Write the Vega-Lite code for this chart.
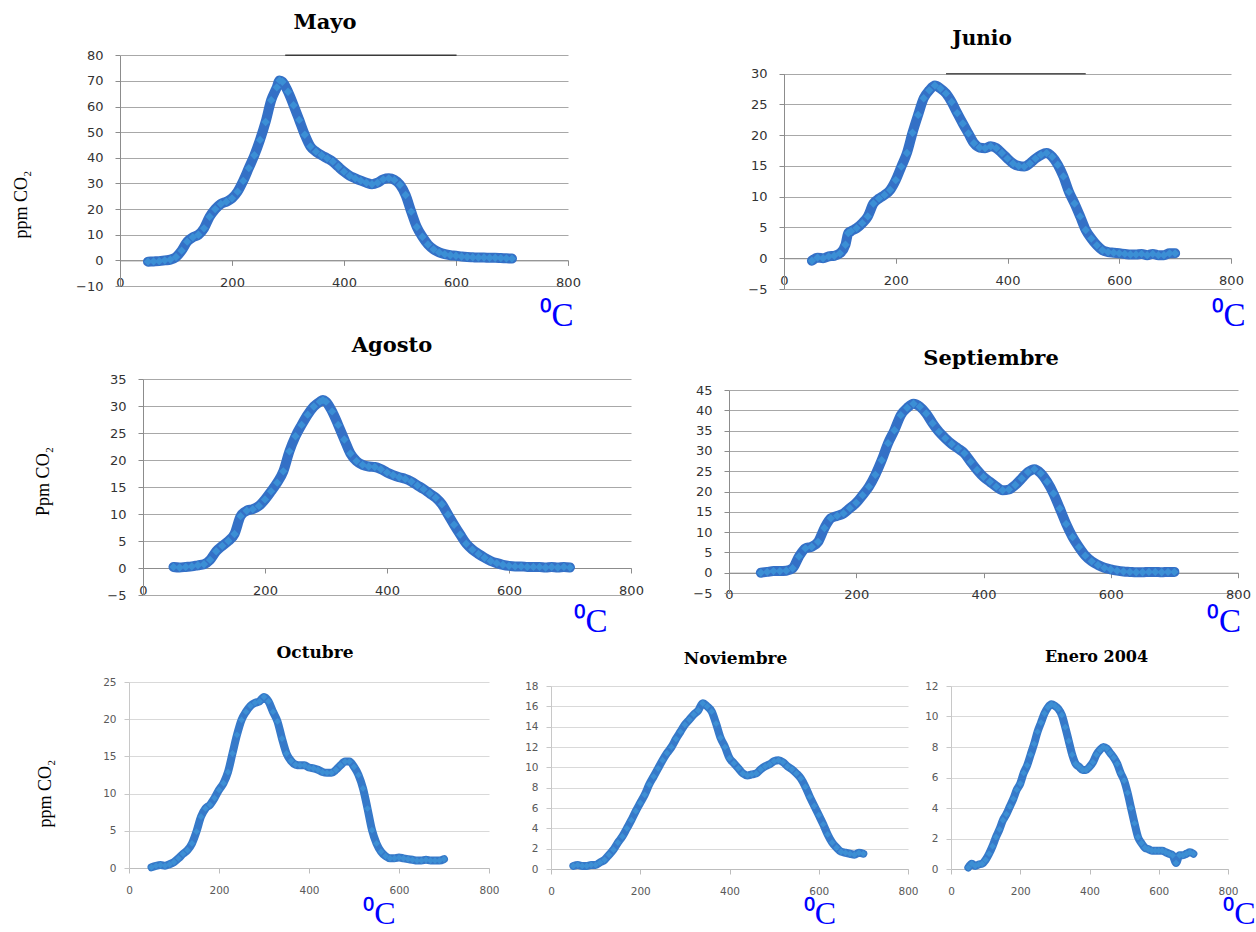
{
  "$schema": "https://vega.github.io/schema/vega-lite/v6.json",
  "padding": 0,
  "background": "white",
  "columns": 3,
  "spacing": 0,
  "bounds": "flush",
  "align": "each",
  "datasets": {
    "mayo": [
      {"temp":50,"ppm":-0.5},{"temp":60,"ppm":-0.4},{"temp":70,"ppm":-0.3},{"temp":80,"ppm":0},{"temp":90,"ppm":0.3},
      {"temp":100,"ppm":1.3},{"temp":110,"ppm":3.8},{"temp":120,"ppm":7.3},{"temp":130,"ppm":9},{"temp":140,"ppm":10},
      {"temp":150,"ppm":12.5},{"temp":160,"ppm":17},{"temp":170,"ppm":20},{"temp":180,"ppm":22},{"temp":190,"ppm":22.9},
      {"temp":200,"ppm":24.2},{"temp":210,"ppm":26.8},{"temp":220,"ppm":31},{"temp":230,"ppm":36},{"temp":240,"ppm":41},
      {"temp":250,"ppm":47},{"temp":260,"ppm":54},{"temp":270,"ppm":62.5},{"temp":280,"ppm":67.5},{"temp":285,"ppm":70.2},
      {"temp":290,"ppm":69.7},{"temp":300,"ppm":65.8},{"temp":310,"ppm":60.5},{"temp":320,"ppm":54.8},{"temp":330,"ppm":49},
      {"temp":340,"ppm":44.4},{"temp":350,"ppm":42.4},{"temp":360,"ppm":41},{"temp":370,"ppm":39.8},{"temp":380,"ppm":38.5},
      {"temp":390,"ppm":36.5},{"temp":400,"ppm":34.6},{"temp":410,"ppm":33},{"temp":420,"ppm":32},{"temp":430,"ppm":31.1},
      {"temp":440,"ppm":30.3},{"temp":450,"ppm":29.7},{"temp":460,"ppm":30.3},{"temp":470,"ppm":31.6},{"temp":480,"ppm":32},
      {"temp":490,"ppm":31.4},{"temp":500,"ppm":29.5},{"temp":510,"ppm":25.5},{"temp":520,"ppm":19},{"temp":530,"ppm":13},
      {"temp":540,"ppm":9.2},{"temp":550,"ppm":6.2},{"temp":560,"ppm":4.3},{"temp":570,"ppm":3.1},{"temp":580,"ppm":2.4},
      {"temp":590,"ppm":2},{"temp":600,"ppm":1.8},{"temp":610,"ppm":1.5},{"temp":620,"ppm":1.3},{"temp":630,"ppm":1.2},
      {"temp":640,"ppm":1.1},{"temp":650,"ppm":1.1},{"temp":660,"ppm":1},{"temp":670,"ppm":1},{"temp":680,"ppm":0.9},
      {"temp":690,"ppm":0.8},{"temp":700,"ppm":0.7}
    ],
    "junio": [
      {"temp":50,"ppm":-0.4},{"temp":60,"ppm":0.1},{"temp":70,"ppm":0},{"temp":80,"ppm":0.3},{"temp":90,"ppm":0.4},
      {"temp":100,"ppm":0.8},{"temp":110,"ppm":2.2},{"temp":115,"ppm":4.1},{"temp":120,"ppm":4.4},{"temp":130,"ppm":4.9},
      {"temp":140,"ppm":5.7},{"temp":150,"ppm":6.8},{"temp":160,"ppm":8.9},{"temp":170,"ppm":9.7},{"temp":180,"ppm":10.3},
      {"temp":190,"ppm":11.1},{"temp":200,"ppm":12.7},{"temp":210,"ppm":14.9},{"temp":220,"ppm":17.1},{"temp":230,"ppm":20.4},
      {"temp":240,"ppm":23.3},{"temp":250,"ppm":26},{"temp":260,"ppm":27.3},{"temp":270,"ppm":28.1},{"temp":280,"ppm":27.6},
      {"temp":290,"ppm":26.8},{"temp":300,"ppm":25.4},{"temp":310,"ppm":23.6},{"temp":320,"ppm":21.9},{"temp":330,"ppm":20.3},
      {"temp":340,"ppm":18.7},{"temp":350,"ppm":18},{"temp":360,"ppm":17.9},{"temp":370,"ppm":18.2},{"temp":380,"ppm":17.9},
      {"temp":390,"ppm":17.1},{"temp":400,"ppm":16.2},{"temp":410,"ppm":15.4},{"temp":420,"ppm":15},{"temp":430,"ppm":14.9},
      {"temp":440,"ppm":15.4},{"temp":450,"ppm":16.2},{"temp":460,"ppm":16.8},{"temp":470,"ppm":17.1},{"temp":480,"ppm":16.5},
      {"temp":490,"ppm":15.2},{"temp":500,"ppm":13.3},{"temp":510,"ppm":10.8},{"temp":520,"ppm":8.9},{"temp":530,"ppm":6.8},
      {"temp":540,"ppm":4.6},{"temp":550,"ppm":3.2},{"temp":560,"ppm":2.1},{"temp":570,"ppm":1.3},{"temp":580,"ppm":1},
      {"temp":590,"ppm":0.9},{"temp":600,"ppm":0.8},{"temp":610,"ppm":0.7},{"temp":620,"ppm":0.6},{"temp":630,"ppm":0.6},
      {"temp":640,"ppm":0.7},{"temp":650,"ppm":0.5},{"temp":660,"ppm":0.7},{"temp":670,"ppm":0.5},{"temp":680,"ppm":0.5},
      {"temp":690,"ppm":0.8},{"temp":700,"ppm":0.8}
    ],
    "agosto": [
      {"temp":50,"ppm":0.2},{"temp":60,"ppm":0.1},{"temp":70,"ppm":0.2},{"temp":80,"ppm":0.3},{"temp":90,"ppm":0.5},
      {"temp":100,"ppm":0.7},{"temp":110,"ppm":1.5},{"temp":120,"ppm":3.1},{"temp":130,"ppm":4.1},{"temp":140,"ppm":5},
      {"temp":150,"ppm":6.3},{"temp":160,"ppm":9.6},{"temp":170,"ppm":10.6},{"temp":180,"ppm":10.9},{"temp":190,"ppm":11.5},
      {"temp":200,"ppm":12.7},{"temp":210,"ppm":14.2},{"temp":220,"ppm":15.8},{"temp":230,"ppm":17.9},{"temp":240,"ppm":21.6},
      {"temp":250,"ppm":24.4},{"temp":260,"ppm":26.5},{"temp":270,"ppm":28.4},{"temp":280,"ppm":29.9},{"temp":290,"ppm":30.8},
      {"temp":295,"ppm":31.1},{"temp":300,"ppm":30.8},{"temp":310,"ppm":29},{"temp":320,"ppm":26.5},{"temp":330,"ppm":23.8},
      {"temp":340,"ppm":21.2},{"temp":350,"ppm":19.8},{"temp":360,"ppm":19.1},{"temp":370,"ppm":18.8},{"temp":380,"ppm":18.7},
      {"temp":390,"ppm":18.3},{"temp":400,"ppm":17.7},{"temp":410,"ppm":17.2},{"temp":420,"ppm":16.8},{"temp":430,"ppm":16.5},
      {"temp":440,"ppm":16},{"temp":450,"ppm":15.3},{"temp":460,"ppm":14.6},{"temp":470,"ppm":13.8},{"temp":480,"ppm":13},
      {"temp":490,"ppm":11.8},{"temp":500,"ppm":9.9},{"temp":510,"ppm":8},{"temp":520,"ppm":6.2},{"temp":530,"ppm":4.5},
      {"temp":540,"ppm":3.4},{"temp":550,"ppm":2.6},{"temp":560,"ppm":1.9},{"temp":570,"ppm":1.3},{"temp":580,"ppm":0.9},
      {"temp":590,"ppm":0.6},{"temp":600,"ppm":0.4},{"temp":610,"ppm":0.3},{"temp":620,"ppm":0.3},{"temp":630,"ppm":0.2},
      {"temp":640,"ppm":0.2},{"temp":650,"ppm":0.2},{"temp":660,"ppm":0.1},{"temp":670,"ppm":0.2},{"temp":680,"ppm":0.1},
      {"temp":690,"ppm":0.2},{"temp":700,"ppm":0.1}
    ],
    "septiembre": [
      {"temp":50,"ppm":0},{"temp":60,"ppm":0.2},{"temp":70,"ppm":0.4},{"temp":80,"ppm":0.4},{"temp":90,"ppm":0.5},
      {"temp":100,"ppm":1.1},{"temp":110,"ppm":4},{"temp":120,"ppm":6},{"temp":130,"ppm":6.4},{"temp":140,"ppm":7.6},
      {"temp":150,"ppm":11},{"temp":160,"ppm":13.4},{"temp":170,"ppm":14},{"temp":180,"ppm":14.6},{"temp":190,"ppm":15.9},
      {"temp":200,"ppm":17.2},{"temp":210,"ppm":19.1},{"temp":220,"ppm":21.2},{"temp":230,"ppm":24.1},{"temp":240,"ppm":27.7},
      {"temp":250,"ppm":31.9},{"temp":260,"ppm":35.1},{"temp":270,"ppm":38.8},{"temp":280,"ppm":40.6},{"temp":290,"ppm":41.6},
      {"temp":300,"ppm":40.9},{"temp":310,"ppm":39.2},{"temp":320,"ppm":36.8},{"temp":330,"ppm":34.7},{"temp":340,"ppm":33.1},
      {"temp":350,"ppm":31.7},{"temp":360,"ppm":30.6},{"temp":370,"ppm":29.4},{"temp":380,"ppm":27.3},{"temp":390,"ppm":25.3},
      {"temp":400,"ppm":23.6},{"temp":410,"ppm":22.4},{"temp":420,"ppm":21.2},{"temp":430,"ppm":20.3},{"temp":440,"ppm":20.5},
      {"temp":450,"ppm":21.6},{"temp":460,"ppm":23.2},{"temp":470,"ppm":24.8},{"temp":480,"ppm":25.5},{"temp":490,"ppm":24.5},
      {"temp":500,"ppm":22.4},{"temp":510,"ppm":19.5},{"temp":520,"ppm":15.8},{"temp":530,"ppm":12},{"temp":540,"ppm":8.8},
      {"temp":550,"ppm":6.3},{"temp":560,"ppm":4.2},{"temp":570,"ppm":2.8},{"temp":580,"ppm":1.9},{"temp":590,"ppm":1.2},
      {"temp":600,"ppm":0.8},{"temp":610,"ppm":0.5},{"temp":620,"ppm":0.3},{"temp":630,"ppm":0.2},{"temp":640,"ppm":0.1},
      {"temp":650,"ppm":0.1},{"temp":660,"ppm":0.2},{"temp":670,"ppm":0.2},{"temp":680,"ppm":0.1},{"temp":690,"ppm":0.2},
      {"temp":700,"ppm":0.2}
    ],
    "octubre": [
      {"temp":50,"ppm":0.1},{"temp":60,"ppm":0.3},{"temp":70,"ppm":0.4},{"temp":80,"ppm":0.3},{"temp":90,"ppm":0.5},
      {"temp":100,"ppm":0.8},{"temp":110,"ppm":1.3},{"temp":120,"ppm":1.9},{"temp":130,"ppm":2.4},{"temp":140,"ppm":3.3},
      {"temp":150,"ppm":4.9},{"temp":160,"ppm":6.9},{"temp":170,"ppm":8},{"temp":180,"ppm":8.5},{"temp":190,"ppm":9.4},
      {"temp":200,"ppm":10.5},{"temp":210,"ppm":11.4},{"temp":220,"ppm":12.9},{"temp":230,"ppm":15.4},{"temp":240,"ppm":17.9},
      {"temp":250,"ppm":19.9},{"temp":260,"ppm":21},{"temp":270,"ppm":21.8},{"temp":280,"ppm":22.2},{"temp":290,"ppm":22.4},
      {"temp":300,"ppm":23},{"temp":310,"ppm":22.4},{"temp":320,"ppm":21},{"temp":330,"ppm":19.7},{"temp":340,"ppm":17.4},
      {"temp":350,"ppm":15.4},{"temp":360,"ppm":14.4},{"temp":370,"ppm":13.9},{"temp":380,"ppm":13.8},{"temp":390,"ppm":13.8},
      {"temp":400,"ppm":13.5},{"temp":410,"ppm":13.4},{"temp":420,"ppm":13.2},{"temp":430,"ppm":12.9},{"temp":440,"ppm":12.8},
      {"temp":450,"ppm":12.8},{"temp":460,"ppm":13.2},{"temp":470,"ppm":13.8},{"temp":480,"ppm":14.3},{"temp":490,"ppm":14.3},
      {"temp":500,"ppm":13.6},{"temp":510,"ppm":12.5},{"temp":520,"ppm":10.7},{"temp":530,"ppm":8},{"temp":540,"ppm":5.1},
      {"temp":550,"ppm":3.3},{"temp":560,"ppm":2.2},{"temp":570,"ppm":1.6},{"temp":580,"ppm":1.3},{"temp":590,"ppm":1.3},
      {"temp":600,"ppm":1.4},{"temp":610,"ppm":1.3},{"temp":620,"ppm":1.2},{"temp":630,"ppm":1.1},{"temp":640,"ppm":1},
      {"temp":650,"ppm":1},{"temp":660,"ppm":1.1},{"temp":670,"ppm":1},{"temp":680,"ppm":1},{"temp":690,"ppm":1},
      {"temp":700,"ppm":1.2}
    ],
    "noviembre": [
      {"temp":50,"ppm":0.3},{"temp":60,"ppm":0.4},{"temp":70,"ppm":0.3},{"temp":80,"ppm":0.3},{"temp":90,"ppm":0.4},
      {"temp":100,"ppm":0.4},{"temp":110,"ppm":0.65},{"temp":120,"ppm":0.9},{"temp":130,"ppm":1.4},{"temp":140,"ppm":1.9},
      {"temp":150,"ppm":2.6},{"temp":160,"ppm":3.2},{"temp":170,"ppm":4},{"temp":180,"ppm":4.8},{"temp":190,"ppm":5.7},
      {"temp":200,"ppm":6.5},{"temp":210,"ppm":7.3},{"temp":220,"ppm":8.3},{"temp":230,"ppm":9.1},{"temp":240,"ppm":9.9},
      {"temp":250,"ppm":10.7},{"temp":260,"ppm":11.4},{"temp":270,"ppm":12},{"temp":280,"ppm":12.8},{"temp":290,"ppm":13.5},
      {"temp":300,"ppm":14.2},{"temp":310,"ppm":14.7},{"temp":320,"ppm":15.2},{"temp":330,"ppm":15.6},{"temp":340,"ppm":16.3},
      {"temp":350,"ppm":16},{"temp":360,"ppm":15.5},{"temp":370,"ppm":14.3},{"temp":380,"ppm":12.9},{"temp":390,"ppm":12},
      {"temp":400,"ppm":10.9},{"temp":410,"ppm":10.4},{"temp":420,"ppm":9.9},{"temp":430,"ppm":9.4},{"temp":440,"ppm":9.2},
      {"temp":450,"ppm":9.3},{"temp":460,"ppm":9.4},{"temp":470,"ppm":9.8},{"temp":480,"ppm":10.1},{"temp":490,"ppm":10.3},
      {"temp":500,"ppm":10.6},{"temp":510,"ppm":10.7},{"temp":520,"ppm":10.5},{"temp":530,"ppm":10.1},{"temp":540,"ppm":9.8},
      {"temp":550,"ppm":9.4},{"temp":560,"ppm":8.9},{"temp":570,"ppm":8.1},{"temp":580,"ppm":7.1},{"temp":590,"ppm":6.2},
      {"temp":600,"ppm":5.3},{"temp":610,"ppm":4.4},{"temp":620,"ppm":3.4},{"temp":630,"ppm":2.6},{"temp":640,"ppm":2.1},
      {"temp":650,"ppm":1.7},{"temp":660,"ppm":1.6},{"temp":670,"ppm":1.5},{"temp":680,"ppm":1.4},{"temp":690,"ppm":1.6},
      {"temp":700,"ppm":1.5}
    ],
    "enero": [
      {"temp":50,"ppm":0.1},{"temp":60,"ppm":0.35},{"temp":70,"ppm":0.2},{"temp":80,"ppm":0.3},{"temp":90,"ppm":0.35},
      {"temp":100,"ppm":0.6},{"temp":110,"ppm":1},{"temp":120,"ppm":1.5},{"temp":130,"ppm":2.1},{"temp":140,"ppm":2.6},
      {"temp":150,"ppm":3.2},{"temp":160,"ppm":3.6},{"temp":170,"ppm":4.1},{"temp":180,"ppm":4.6},{"temp":190,"ppm":5.2},
      {"temp":200,"ppm":5.6},{"temp":210,"ppm":6.3},{"temp":220,"ppm":6.8},{"temp":230,"ppm":7.5},{"temp":240,"ppm":8.2},
      {"temp":250,"ppm":9},{"temp":260,"ppm":9.6},{"temp":270,"ppm":10.2},{"temp":280,"ppm":10.6},{"temp":290,"ppm":10.8},
      {"temp":300,"ppm":10.7},{"temp":310,"ppm":10.5},{"temp":320,"ppm":10.1},{"temp":330,"ppm":9.3},{"temp":340,"ppm":8.4},
      {"temp":350,"ppm":7.5},{"temp":360,"ppm":6.9},{"temp":370,"ppm":6.7},{"temp":380,"ppm":6.5},{"temp":390,"ppm":6.5},
      {"temp":400,"ppm":6.7},{"temp":410,"ppm":7},{"temp":420,"ppm":7.5},{"temp":430,"ppm":7.8},{"temp":440,"ppm":8},
      {"temp":450,"ppm":7.9},{"temp":460,"ppm":7.6},{"temp":470,"ppm":7.3},{"temp":480,"ppm":6.9},{"temp":490,"ppm":6.3},
      {"temp":500,"ppm":5.8},{"temp":510,"ppm":5},{"temp":520,"ppm":4},{"temp":530,"ppm":3},{"temp":540,"ppm":2.1},
      {"temp":550,"ppm":1.7},{"temp":560,"ppm":1.4},{"temp":570,"ppm":1.3},{"temp":580,"ppm":1.2},{"temp":590,"ppm":1.2},
      {"temp":600,"ppm":1.2},{"temp":610,"ppm":1.2},{"temp":620,"ppm":1.1},{"temp":630,"ppm":1},{"temp":640,"ppm":0.9},
      {"temp":650,"ppm":0.4},{"temp":660,"ppm":0.9},{"temp":670,"ppm":0.9},{"temp":680,"ppm":1},{"temp":690,"ppm":1.1},
      {"temp":700,"ppm":1}
    ]
  },
  "concat": [
    {
      "width": 489, "height": 286,
      "title": {"text": "Mayo", "offset": -33, "dx": 80.5, "fontSize": 21},
      "data": {"name": "mayo"},
      "encoding": {
        "x": {"field": "temp", "type": "quantitative",
              "scale": {"domain": [0, 800], "range": [120, 568], "nice": false, "zero": false},
              "axis": {"values": [0, 200, 400, 600, 800], "offset": -25.63, "grid": false, "labelPadding": 11.5,
                       "title": "⁰C", "titleX": 556, "titleY": 65.6, "titleAlign": "center", "titleBaseline": "alphabetic",
                       "titleColor": "#0000ff", "titleFontSize": 33}},
        "y": {"field": "ppm", "type": "quantitative",
              "scale": {"domain": [-10, 80], "range": [286, 55.3], "nice": false, "zero": false},
              "axis": {"values": [-10, 0, 10, 20, 30, 40, 50, 60, 70, 80], "offset": -120, "grid": true, "labelPadding": 12,
                       "title": "ppm CO₂", "titleX": -99, "titleY": 204, "titleAngle": -90, "titleAlign": "center",
                       "titleBaseline": "middle", "titleFontSize": 18}}
      },
      "layer": [
        {"mark": {"type": "line", "color": "#3470c6", "strokeWidth": 10, "interpolate": "monotone", "strokeJoin": "round", "strokeCap": "round"}},
        {"mark": {"type": "point", "shape": "diamond", "filled": true, "size": 70, "color": "#3b8fd5", "opacity": 1}},
        {"data": {"values": [{"temp": 295, "temp_end": 601, "ppm": 80}]},
         "mark": {"type": "rule", "color": "#3a3a3a", "strokeWidth": 1.5},
         "encoding": {"x2": {"field": "temp_end"}}}
      ]
    },
    {
      "width": 419, "height": 289,
      "title": {"text": "Junio", "offset": -49, "dx": 283.5},
      "data": {"name": "junio"},
      "encoding": {
        "x": {"field": "temp", "type": "quantitative",
              "scale": {"domain": [0, 800], "range": [295, 742], "nice": false, "zero": false},
              "axis": {"values": [0, 200, 400, 600, 800], "offset": -30.76, "grid": false, "labelPadding": 11,
                       "title": "⁰C", "titleX": 739, "titleY": 67.5, "titleAlign": "center", "titleBaseline": "alphabetic",
                       "titleColor": "#0000ff", "titleFontSize": 33}},
        "y": {"field": "ppm", "type": "quantitative",
              "scale": {"domain": [-5, 30], "range": [289, 73.7], "nice": false, "zero": false},
              "axis": {"values": [-5, 0, 5, 10, 15, 20, 25, 30], "offset": -295, "grid": true, "labelPadding": 12, "title": null}}
      },
      "layer": [
        {"mark": {"type": "line", "color": "#3470c6", "strokeWidth": 10, "interpolate": "monotone", "strokeJoin": "round", "strokeCap": "round"}},
        {"mark": {"type": "point", "shape": "diamond", "filled": true, "size": 70, "color": "#3b8fd5", "opacity": 1}},
        {"data": {"values": [{"temp": 290, "temp_end": 540, "ppm": 30}]},
         "mark": {"type": "rule", "color": "#555555", "strokeWidth": 1.5},
         "encoding": {"x2": {"field": "temp_end"}}}
      ]
    },
    {"width": 1, "height": 379, "data": {"values": []}, "mark": "point"},
    {
      "width": 489, "height": 216,
      "title": {"text": "Agosto", "offset": 17, "dx": 147.5, "fontSize": 21},
      "data": {"name": "agosto"},
      "encoding": {
        "x": {"field": "temp", "type": "quantitative",
              "scale": {"domain": [0, 800], "range": [143, 631], "nice": false, "zero": false},
              "axis": {"values": [0, 200, 400, 600, 800], "offset": -27, "grid": false, "labelPadding": 11,
                       "title": "⁰C", "titleX": 590, "titleY": 63.7, "titleAlign": "center", "titleBaseline": "alphabetic",
                       "titleColor": "#0000ff", "titleFontSize": 33}},
        "y": {"field": "ppm", "type": "quantitative",
              "scale": {"domain": [-5, 35], "range": [216, 0], "nice": false, "zero": false},
              "axis": {"values": [-5, 0, 5, 10, 15, 20, 25, 30, 35], "offset": -143, "grid": true, "labelPadding": 12,
                       "title": "Ppm CO₂", "titleX": -100, "titleY": 102, "titleAngle": -90, "titleAlign": "center",
                       "titleBaseline": "middle", "titleFontSize": 18}}
      },
      "layer": [
        {"mark": {"type": "line", "color": "#3470c6", "strokeWidth": 10, "interpolate": "monotone", "strokeJoin": "round", "strokeCap": "round"}},
        {"mark": {"type": "point", "shape": "diamond", "filled": true, "size": 70, "color": "#3b8fd5", "opacity": 1}}
      ]
    },
    {
      "width": 419, "height": 214,
      "title": {"text": "Septiembre", "offset": 10, "dx": 292.5, "fontSize": 21},
      "data": {"name": "septiembre"},
      "encoding": {
        "x": {"field": "temp", "type": "quantitative",
              "scale": {"domain": [0, 800], "range": [240, 749], "nice": false, "zero": false},
              "axis": {"values": [0, 200, 400, 600, 800], "offset": -20.3, "grid": false, "labelPadding": 11,
                       "title": "⁰C", "titleX": 734.5, "titleY": 59, "titleAlign": "center", "titleBaseline": "alphabetic",
                       "titleColor": "#0000ff", "titleFontSize": 33}},
        "y": {"field": "ppm", "type": "quantitative",
              "scale": {"domain": [-5, 45], "range": [214, 11], "nice": false, "zero": false},
              "axis": {"values": [-5, 0, 5, 10, 15, 20, 25, 30, 35, 40, 45], "offset": -240, "grid": true, "labelPadding": 12, "title": null}}
      },
      "layer": [
        {"mark": {"type": "line", "color": "#3470c6", "strokeWidth": 10, "interpolate": "monotone", "strokeJoin": "round", "strokeCap": "round"}},
        {"mark": {"type": "point", "shape": "diamond", "filled": true, "size": 70, "color": "#3b8fd5", "opacity": 1}}
      ]
    },
    {"width": 1, "height": 303, "data": {"values": []}, "mark": "point"},
    {
      "width": 489, "height": 186,
      "title": {"text": "Octubre", "offset": 15, "dx": 70.5, "fontSize": 17},
      "data": {"name": "octubre"},
      "encoding": {
        "x": {"field": "temp", "type": "quantitative",
              "scale": {"domain": [0, 800], "range": [129, 489], "nice": false, "zero": false},
              "axis": {"values": [0, 200, 400, 600, 800], "offset": 0, "grid": false, "labelPadding": 12.5,
                       "labelFontSize": 10.5, "labelColor": "#595959", "domainColor": "#bdbdbd", "tickColor": "#bdbdbd",
                       "title": "⁰C", "titleX": 379, "titleY": 55, "titleAlign": "center", "titleBaseline": "alphabetic",
                       "titleColor": "#0000ff", "titleFontSize": 32}},
        "y": {"field": "ppm", "type": "quantitative",
              "scale": {"domain": [0, 25], "range": [186, 0], "nice": false, "zero": false},
              "axis": {"values": [0, 5, 10, 15, 20, 25], "offset": -129, "grid": true, "labelPadding": 8,
                       "labelFontSize": 10.5, "labelColor": "#595959", "domainColor": "#c8c8c8", "tickColor": "#c8c8c8", "gridColor": "#d9d9d9",
                       "title": "ppm CO₂", "titleX": -84, "titleY": 111, "titleAngle": -90, "titleAlign": "center",
                       "titleBaseline": "middle", "titleFontSize": 18}}
      },
      "layer": [
        {"mark": {"type": "line", "color": "#3679c9", "strokeWidth": 8, "interpolate": "monotone", "strokeJoin": "round", "strokeCap": "round"}},
        {"mark": {"type": "point", "shape": "diamond", "filled": true, "size": 45, "color": "#3d8fd4", "opacity": 1}}
      ]
    },
    {
      "width": 419, "height": 187,
      "title": {"text": "Noviembre", "offset": 13, "dx": 37, "fontSize": 17},
      "data": {"name": "noviembre"},
      "encoding": {
        "x": {"field": "temp", "type": "quantitative",
              "scale": {"domain": [0, 800], "range": [62, 419], "nice": false, "zero": false},
              "axis": {"values": [0, 200, 400, 600, 800], "offset": 0, "grid": false, "labelPadding": 12.5,
                       "labelFontSize": 10.5, "labelColor": "#595959", "domainColor": "#bdbdbd", "tickColor": "#bdbdbd",
                       "title": "⁰C", "titleX": 330.5, "titleY": 54, "titleAlign": "center", "titleBaseline": "alphabetic",
                       "titleColor": "#0000ff", "titleFontSize": 32}},
        "y": {"field": "ppm", "type": "quantitative",
              "scale": {"domain": [0, 18], "range": [187, 4], "nice": false, "zero": false},
              "axis": {"values": [0, 2, 4, 6, 8, 10, 12, 14, 16, 18], "offset": -62, "grid": true, "labelPadding": 8,
                       "labelFontSize": 10.5, "labelColor": "#595959", "domainColor": "#c8c8c8", "tickColor": "#c8c8c8", "gridColor": "#d9d9d9",
                       "title": null}}
      },
      "layer": [
        {"mark": {"type": "line", "color": "#3679c9", "strokeWidth": 8, "interpolate": "monotone", "strokeJoin": "round", "strokeCap": "round"}},
        {"mark": {"type": "point", "shape": "diamond", "filled": true, "size": 45, "color": "#3d8fd4", "opacity": 1}}
      ]
    },
    {
      "width": 320, "height": 187,
      "title": {"text": "Enero 2004", "offset": 16, "dx": 28.5, "fontSize": 16},
      "data": {"name": "enero"},
      "encoding": {
        "x": {"field": "temp", "type": "quantitative",
              "scale": {"domain": [0, 800], "range": [43, 320], "nice": false, "zero": false},
              "axis": {"values": [0, 200, 400, 600, 800], "offset": 0, "grid": false, "labelPadding": 12.5,
                       "labelFontSize": 10.5, "labelColor": "#595959", "domainColor": "#bdbdbd", "tickColor": "#bdbdbd",
                       "title": "⁰C", "titleX": 331, "titleY": 54, "titleAlign": "center", "titleBaseline": "alphabetic",
                       "titleColor": "#0000ff", "titleFontSize": 32}},
        "y": {"field": "ppm", "type": "quantitative",
              "scale": {"domain": [0, 12], "range": [187, 4], "nice": false, "zero": false},
              "axis": {"values": [0, 2, 4, 6, 8, 10, 12], "offset": -43, "grid": true, "labelPadding": 8,
                       "labelFontSize": 10.5, "labelColor": "#595959", "domainColor": "#c8c8c8", "tickColor": "#c8c8c8", "gridColor": "#d9d9d9",
                       "title": null}}
      },
      "layer": [
        {"mark": {"type": "line", "color": "#3679c9", "strokeWidth": 8, "interpolate": "monotone", "strokeJoin": "round", "strokeCap": "round"}},
        {"mark": {"type": "point", "shape": "diamond", "filled": true, "size": 45, "color": "#3d8fd4", "opacity": 1}}
      ]
    }
  ],
  "config": {
    "view": {"stroke": null},
    "axis": {
      "labelFont": "DejaVu Sans", "labelFontSize": 13, "labelColor": "#333333",
      "labelFlush": false, "labelOverlap": false,
      "domainColor": "#8c8c8c", "tickColor": "#8c8c8c", "gridColor": "#a8a8a8",
      "domainWidth": 1, "tickWidth": 1, "gridWidth": 1, "tickSize": 5,
      "titleFont": "Liberation Serif", "titleFontWeight": "normal", "titleColor": "#000000"
    },
    "title": {
      "font": "DejaVu Serif", "fontWeight": "bold", "fontSize": 20, "color": "#000000",
      "anchor": "middle", "frame": "group", "baseline": "alphabetic"
    }
  }
}
